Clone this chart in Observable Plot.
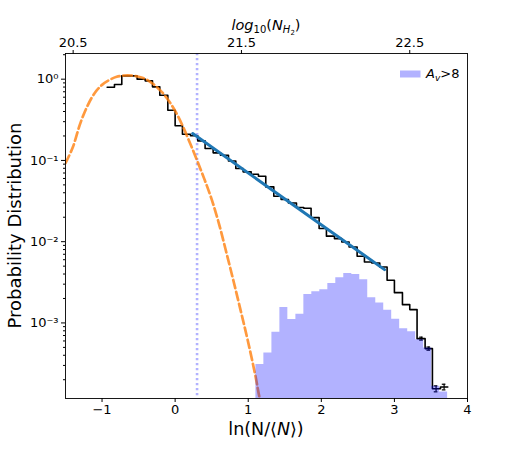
<!DOCTYPE html>
<html><head><meta charset="utf-8">
<script src="https://cdn.jsdelivr.net/npm/d3@7"></script>
<script src="https://cdn.jsdelivr.net/npm/@observablehq/plot@0.6"></script>
<style>body{margin:0;background:#fff}#chart{width:520px;height:455px}</style>
</head><body><div id="chart"></div>
<script>
// Full column-density PDF (step histogram): bin edges in ln(N/<N>) and values
const pdfEdges = [-0.93,-0.83,-0.73,-0.62,-0.52,-0.41,-0.31,-0.21,-0.10,0.00,0.10,0.21,0.31,0.41,0.52,0.62,0.73,0.83,0.93,1.04,1.14,1.24,1.35,1.45,1.55,1.66,1.76,1.86,1.97,2.07,2.18,2.28,2.38,2.49,2.59,2.69,2.80,2.90,3.00,3.11,3.21,3.31,3.42,3.52,3.63,3.73];
const pdfValues = [0.796,0.861,1.099,1.099,1.0,0.953,0.804,0.635,0.415,0.267,0.210,0.201,0.174,0.140,0.124,0.116,0.0986,0.0794,0.0724,0.0676,0.0638,0.0472,0.0362,0.0330,0.0299,0.0263,0.0258,0.0198,0.0145,0.0117,0.0109,0.00991,0.00861,0.00661,0.00562,0.00547,0.00488,0.00335,0.00236,0.00168,0.00146,0.000641,0.000483,0.000155,0.000163];
// Error bars on last bins
const errS = [3.37,3.47,3.57,3.68];
const errLo = [0.000615,0.000462,0.000142,0.000150];
const errHi = [0.000668,0.000505,0.000168,0.000176];
// Av > 8 histogram
const av8Edges = [1.105,1.214,1.324,1.433,1.542,1.652,1.761,1.870,1.979,2.089,2.198,2.307,2.417,2.526,2.635,2.745,2.854,2.963,3.072,3.182,3.291,3.400,3.510,3.619,3.728];
const av8Values = [3.09e-4,4.27e-4,7.66e-4,1.55e-3,1.10e-3,1.28e-3,2.24e-3,2.42e-3,2.57e-3,3.05e-3,3.61e-3,4.07e-3,3.94e-3,3.41e-3,2.04e-3,1.76e-3,1.43e-3,1.11e-3,8.5e-4,7.8e-4,6.22e-4,4.9e-4,1.66e-4,1.41e-4];
// Lognormal fit (orange dashed)
const fitS = [-1.5,-1.4,-1.3,-1.2,-1.1,-1.0,-0.9,-0.8,-0.7,-0.6,-0.5,-0.4,-0.3,-0.2,-0.1,0.0,0.1,0.2,0.3,0.4,0.5,0.6,0.7,0.8,0.9,1.0,1.1,1.15,1.2];
const fitP = [0.0925,0.145,0.282,0.468,0.676,0.851,0.977,1.07,1.11,1.11,1.07,1.0,0.871,0.724,0.562,0.407,0.269,0.166,0.1,0.0589,0.0331,0.0166,0.00741,0.00324,0.00138,0.000575,0.000219,0.000126,0.000079];
// Power-law fit (blue line)
const plawS = [0.24,2.865];
const plawP = [0.214,0.00453];
// Threshold
const thresholdS = [0.3];
// Axes
const xTicks = [-1,0,1,2,3,4];
const yTicks = [1,0.1,0.01,0.001];
const topTicks = [20.5,21.5,22.5];
const meanLog10N = 21.106;
const xDomain = [-1.5,4];
const yDomain = [1.175e-4,2.07];

const pdfSteps = pdfEdges.map((e,i)=>({x:e, y:pdfValues[Math.min(i,pdfValues.length-1)]}));
const av8Steps = av8Edges.map((e,i)=>({x:e, y:av8Values[Math.min(i,av8Values.length-1)]}));
const fitData = fitS.map((s,i)=>({x:s, y:fitP[i]}));
const plawData = plawS.map((s,i)=>({x:s, y:plawP[i]}));
const errData = errS.map((s,i)=>({x:s, lo:errLo[i], hi:errHi[i]}));
const minorY = [];
for (let e=-4; e<=0; e++) for (let m=2; m<=9; m++) { const v = m*Math.pow(10,e); if (v>yDomain[0] && v<yDomain[1]) minorY.push(v); }
const supMap = {"0":"⁰","1":"¹","2":"²","3":"³","4":"⁴","-":"⁻"};
const sup = n => String(n).split("").map(c=>supMap[c]).join("");

const chart = Plot.plot({
  width: 520, height: 455,
  marginLeft: 65, marginRight: 53, marginTop: 53, marginBottom: 57,
  style: {fontFamily: "'DejaVu Sans', sans-serif", fontSize: "13px", background: "#fff", color: "black"},
  x: {domain: xDomain},
  y: {type: "log", domain: yDomain},
  marks: [
    Plot.ruleX(thresholdS, {stroke: "blue", strokeOpacity: 0.3, strokeWidth: 2.6, strokeDasharray: "2.2,2.8"}),
    Plot.line(pdfSteps, {x: "x", y: "y", curve: "step-after", stroke: "black", strokeWidth: 1.6}),
    Plot.ruleX(errData, {x: "x", y1: "lo", y2: "hi", stroke: "black", strokeWidth: 1.2}),
    Plot.ruleY(errData, {y: "lo", x1: d => d.x-0.025, x2: d => d.x+0.025, stroke: "black", strokeWidth: 1.2}),
    Plot.ruleY(errData, {y: "hi", x1: d => d.x-0.025, x2: d => d.x+0.025, stroke: "black", strokeWidth: 1.2}),
    Plot.line(fitData, {x: "x", y: "y", curve: "catmull-rom", stroke: "#ff7f0e", strokeOpacity: 0.8, strokeWidth: 2.7, strokeDasharray: "8.5,3.8", clip: true}),
    Plot.line(plawData, {x: "x", y: "y", stroke: "#1f77b4", strokeWidth: 3}),
    Plot.areaY(av8Steps, {x: "x", y1: yDomain[0], y2: "y", curve: "step-after", fill: "blue", fillOpacity: 0.3, clip: true}),
    Plot.axisX(xTicks, {anchor: "bottom", tickSize: 4, tickPadding: 2, label: null, tickFormat: d => d < 0 ? "\u2212" + (-d) : String(d)}),
    Plot.axisX(topTicks.map(t => (t - meanLog10N) * Math.LN10), {anchor: "top", tickSize: 4, tickPadding: 3, label: null, tickFormat: d => (d / Math.LN10 + meanLog10N).toFixed(1)}),
    Plot.axisY(yTicks, {anchor: "left", tickSize: 4, tickPadding: 3, label: null, tickFormat: d => "10" + sup(Math.round(Math.log10(d)))}),
    Plot.axisY(minorY, {anchor: "left", tickSize: 2, label: null, tickFormat: () => ""}),
    Plot.frame({stroke: "black", strokeWidth: 0.9})
  ]
});
document.getElementById("chart").appendChild(chart);

const svg = d3.select(chart);
const ff = "'DejaVu Sans', sans-serif";
const cx = (65 + 467) / 2;
// bottom label
const xl = svg.append("text").attr("x", cx).attr("y", 435).attr("text-anchor", "middle").attr("font-size", 17.5).attr("font-family", ff).attr("fill", "black");
xl.append("tspan").text("ln(N/\u27E8");
xl.append("tspan").attr("font-style", "italic").text("N");
xl.append("tspan").text("\u27E9)");
// y label
svg.append("text").attr("transform", "translate(21,225.5) rotate(-90)").attr("text-anchor", "middle").attr("font-size", 18).attr("font-family", ff).attr("fill", "black").text("Probability Distribution");
// top label
const tl = svg.append("text").attr("x", cx).attr("y", 30).attr("text-anchor", "middle").attr("font-size", 14.5).attr("font-family", ff).attr("fill", "black");
tl.append("tspan").attr("font-style", "italic").text("log");
tl.append("tspan").attr("font-size", 10).attr("dy", 3).text("10");
tl.append("tspan").attr("dy", -3).text("(");
tl.append("tspan").attr("font-style", "italic").text("N");
tl.append("tspan").attr("font-style", "italic").attr("font-size", 10).attr("dy", 3).text("H");
tl.append("tspan").attr("font-size", 7).attr("dy", 2).text("2");
tl.append("tspan").attr("dy", -5).text(")");
// legend
svg.append("rect").attr("x", 400).attr("y", 70.5).attr("width", 20.5).attr("height", 7).attr("fill", "blue").attr("fill-opacity", 0.3);
const lg = svg.append("text").attr("x", 426).attr("y", 78).attr("text-anchor", "start").attr("font-size", 13).attr("font-family", ff).attr("fill", "black");
lg.append("tspan").attr("font-style", "italic").text("A");
lg.append("tspan").attr("font-style", "italic").attr("font-size", 9).attr("dy", 2.5).text("v");
lg.append("tspan").attr("dy", -2.5).text(">8");
</script>
</body></html>
